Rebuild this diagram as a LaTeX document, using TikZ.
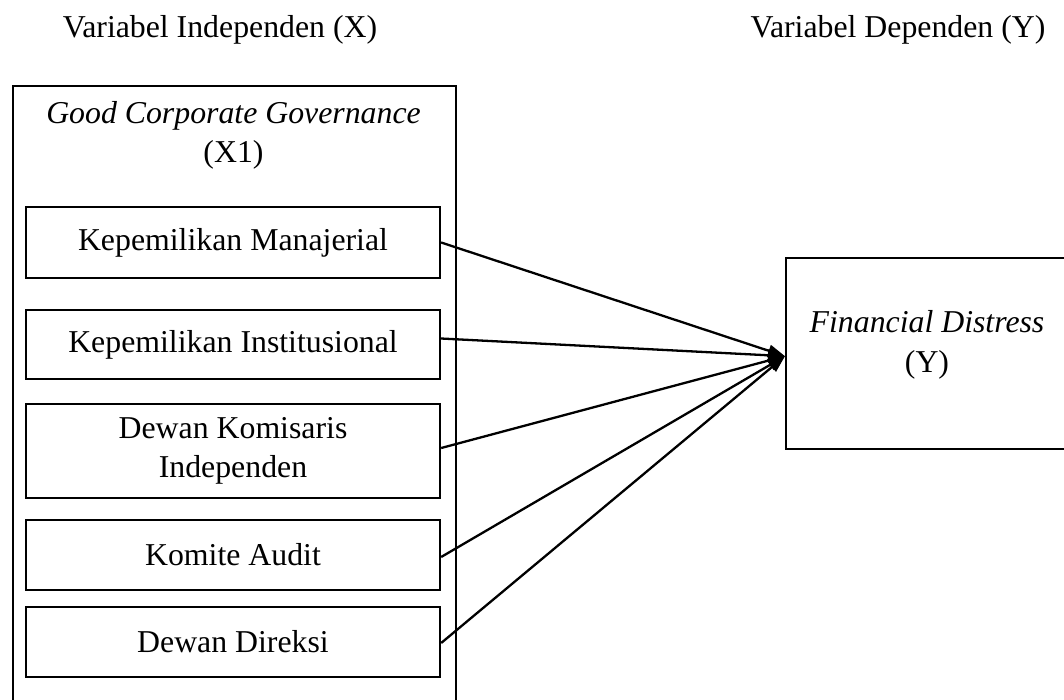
\documentclass[tikz,border=0pt]{standalone}
\usepackage{fontspec}
\setmainfont{Liberation Serif}
\usetikzlibrary{arrows.meta}
\begin{document}
\begin{tikzpicture}[x=1pt,y=-1pt,
  txt/.style={font=\fontsize{31.8}{38.5}\selectfont, inner sep=0pt},
  box/.style={draw, line width=2.3pt, inner sep=0pt, align=center, font=\fontsize{31.8}{38.5}\selectfont},
  conn/.style={line width=2.3pt, -{Triangle[length=17pt,width=12pt]}}]
\useasboundingbox (0,0) rectangle (1064,699);
\clip (0,0) rectangle (1064,699);
% headings
\node[txt, anchor=base] (hx) at (220,37) {Variabel Independen (X)};
\node[txt, anchor=base] (hy) at (898,37) {Variabel Dependen (Y)};
% outer box
\node[box, minimum width=443pt, minimum height=660pt, anchor=north west] (outer) at (12,85) {};
\node[txt, anchor=base] (gcg) at (233.5,123) {\itshape Good Corporate Governance};
\node[txt, anchor=base] (x1) at (233.5,162) {(X1)};
% inner boxes
\node[box, minimum width=414pt, minimum height=71pt] (b1) at (233,242.5) {Kepemilikan Manajerial};
\node[box, minimum width=414pt, minimum height=69pt] (b2) at (233,344.5) {Kepemilikan Institusional};
\node[box, minimum width=414pt, minimum height=94pt] (b3) at (233,451) {Dewan Komisaris\\Independen};
\node[box, minimum width=414pt, minimum height=70pt] (b4) at (233,555) {Komite Audit};
\node[box, minimum width=414pt, minimum height=70pt] (b5) at (233,642) {Dewan Direksi};
% dependent box
\node[box, minimum width=284pt, minimum height=191pt, anchor=north west] (fd) at (785,257) {};
\node[txt, anchor=base] (fdt) at (927,332) {\itshape Financial Distress};
\node[txt, anchor=base] (fdy) at (927,372) {(Y)};
\coordinate (tgt) at ([yshift=-2.5pt]fd.west);
% connectors
\draw[conn] (b1.east) -- (tgt);
\draw[conn] ([yshift=6pt]b2.east) -- (tgt);
\draw[conn] ([yshift=3pt]b3.east) -- (tgt);
\draw[conn] ([yshift=-2pt]b4.east) -- (tgt);
\draw[conn] ([yshift=-1pt]b5.east) -- (tgt);
\end{tikzpicture}
\end{document}
